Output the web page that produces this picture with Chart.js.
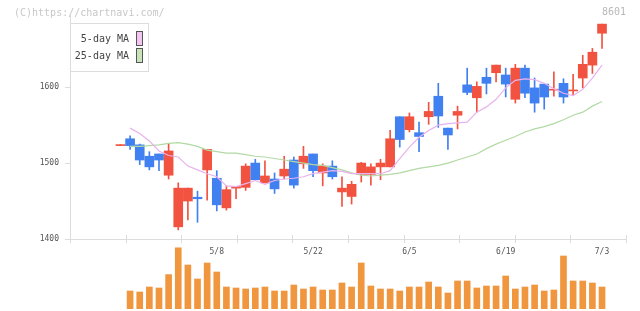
<!DOCTYPE html>
<html>
<head>
<meta charset="utf-8">
<script src="https://cdn.jsdelivr.net/npm/chart.js@4.4.0/dist/chart.umd.min.js"></script>
<style>
  html, body { margin: 0; padding: 0; background: #fff; }
  #wrap { position: relative; width: 640px; height: 311px; overflow: hidden; }
  #wrap canvas { position: absolute; left: 0; top: 0; }
  .note { position: absolute; font: 10px "DejaVu Sans Mono", monospace; line-height: 12px; white-space: nowrap; }
</style>
</head>
<body>
<div id="wrap">
  <canvas id="vol" width="640" height="311"></canvas>
  <canvas id="price" width="640" height="311"></canvas>
  <div class="note" style="left:14px;top:7px;color:#c8c8c8">(C)https://chartnavi.com/</div>
  <div class="note" style="left:602px;top:6px;color:#b8b8b8">8601</div>
</div>
<script>
// daily candles, index 0 = first day drawn (no volume shown)
const open  = [1523,1532,1524,1509,1512,1484,1416,1450,1455,1491,1480,1441,1467,1468,1500,1474,1479,1483,1504,1499,
               1512,1487,1496,1462,1456,1485,1485,1495,1495,1561,1544,1540,1561,1588,1546,1563,1603,1586,1613,1619,
               1616,1584,1625,1599,1604,1596,1605,1595,1612,1629,1671];
const high  = [1523,1536,1525,1515,1512,1526,1474,1467,1463,1518,1490,1470,1469,1499,1505,1503,1487,1509,1508,1522,
               1512,1499,1503,1482,1476,1501,1499,1505,1543,1561,1566,1554,1580,1605,1546,1575,1625,1607,1625,1629,
               1625,1630,1629,1612,1604,1620,1611,1617,1642,1651,1683];
const low   = [1523,1518,1498,1491,1490,1479,1412,1425,1422,1451,1437,1438,1453,1464,1478,1474,1460,1479,1467,1493,
               1482,1470,1479,1443,1446,1475,1471,1478,1495,1521,1541,1515,1551,1547,1518,1545,1590,1567,1591,1607,
               1587,1579,1586,1567,1571,1588,1579,1590,1599,1618,1651];
const close = [1523,1523,1504,1495,1504,1516,1467,1467,1453,1518,1445,1465,1469,1496,1478,1483,1466,1492,1471,1509,
               1490,1496,1482,1467,1472,1500,1495,1500,1532,1531,1561,1535,1568,1562,1537,1568,1593,1601,1605,1629,
               1604,1625,1592,1579,1587,1596,1587,1595,1630,1646,1683];
const volume = [null,4500,4250,5500,5250,8600,15300,11000,7500,11500,9250,5500,5250,5000,5250,5500,4500,4500,6000,5000,
               5500,4750,4750,6500,5500,11500,5750,5000,5000,4500,5500,5500,6750,5500,4000,7000,7000,5250,5750,5750,
               8250,5000,5500,6000,4500,4750,13250,7000,7000,6500,5500];
const ma5   = [null,1546,1539,1529,1516,1510,1508,1496,1491,1486,1482,1470,1469,1473,1477,1472,1477,1479,1480,1482,
               1486,1488,1490,1489,1486,1486,1486,1486,1490,1506,1521,1534,1543,1550,1552,1553,1554,1567,1574,1584,
               1599,1609,1611,1610,1605,1598,1592,1589,1597,1612,1629];
const ma25  = [null,1522,1522,1523,1524,1526,1527,1525,1522,1517,1515,1513,1513,1511,1509,1508,1506,1504,1502,1500,
               1498,1497,1494,1491,1487,1484,1483,1484,1485,1487,1490,1493,1495,1497,1500,1504,1508,1512,1519,1525,
               1530,1535,1541,1545,1548,1552,1557,1563,1567,1575,1581];
const dateIdx    = [10, 20, 30, 40, 50];
const dateLabels = ['5/8', '5/22', '6/5', '6/19', '7/3'];
const priceTicks = [1400, 1500, 1600];

const UP = '#f15340', DOWN = '#4080f0', VOL = '#f0963e', AXIS = '#dcdcdc';
const X_MIN = -5.24, X_MAX = 52.49;
const MONO = '"DejaVu Sans Mono", monospace';

const idx = open.map((_, i) => i);
const candleColor = ctx => close[ctx.dataIndex] >= open[ctx.dataIndex] ? UP : DOWN;

// tick marks across the bottom axis line, 10 equal steps
const crossTicks = {
  id: 'crossTicks',
  afterDraw(chart) {
    const sx = chart.scales.x, bottom = chart.chartArea.bottom, ctx = chart.ctx;
    ctx.save();
    ctx.strokeStyle = AXIS;
    ctx.lineWidth = 1;
    sx.ticks.forEach(t => {
      const px = Math.round(sx.getPixelForValue(t.value)) + 0.5;
      ctx.beginPath();
      ctx.moveTo(px, bottom - 4);
      ctx.lineTo(px, bottom + 4);
      ctx.stroke();
    });
    ctx.restore();
  }
};

// boxed legend, text left of the swatch
const maLegend = {
  id: 'maLegend',
  afterDraw(chart) {
    const ctx = chart.ctx;
    const items = chart.data.datasets.filter(d => d.type === 'line');
    const left = chart.chartArea.left;
    ctx.save();
    ctx.strokeStyle = AXIS;
    ctx.lineWidth = 1;
    ctx.strokeRect(left + 0.5, 23.5, 78, 48);
    ctx.font = '10px ' + MONO;
    ctx.textAlign = 'right';
    ctx.textBaseline = 'middle';
    items.forEach((d, k) => {
      const y = 31 + k * 17;
      ctx.fillStyle = '#444';
      ctx.fillText(d.label, left + 59, y + 8);
      ctx.fillStyle = d.swatch;
      ctx.fillRect(left + 66, y, 7, 15);
      ctx.strokeStyle = '#555';
      ctx.strokeRect(left + 66.5, y + 0.5, 6, 14);
    });
    ctx.restore();
  }
};

new Chart(document.getElementById('price'), {
  type: 'bar',
  data: {
    datasets: [
      {
        type: 'bar', label: 'wick', xAxisID: 'x', yAxisID: 'y', grouped: false, order: 3,
        data: idx.map(i => ({ x: i, y: [low[i], high[i]] })),
        backgroundColor: candleColor, barThickness: 1, minBarLength: 1
      },
      {
        type: 'bar', label: 'body', xAxisID: 'x', yAxisID: 'y', grouped: false, order: 2,
        data: idx.map(i => ({ x: i, y: [open[i], close[i]] })),
        backgroundColor: candleColor, barThickness: 9, minBarLength: 1
      },
      {
        type: 'line', label: '5-day MA', xAxisID: 'x', yAxisID: 'y', order: 1,
        data: idx.map(i => ({ x: i, y: ma5[i] })),
        borderColor: '#e8b2ec', swatch: '#f2c6f2', borderWidth: 1.2, pointRadius: 0, tension: 0
      },
      {
        type: 'line', label: '25-day MA', xAxisID: 'x', yAxisID: 'y', order: 1,
        data: idx.map(i => ({ x: i, y: ma25[i] })),
        borderColor: '#b2d9a4', swatch: '#c6e4b8', borderWidth: 1.2, pointRadius: 0, tension: 0
      }
    ]
  },
  options: {
    responsive: false,
    animation: false,
    devicePixelRatio: 1,
    layout: { padding: { left: 0, right: 14, top: 15, bottom: 0 } },
    plugins: { legend: { display: false }, tooltip: { enabled: false } },
    scales: {
      x: {
        type: 'linear', min: X_MIN, max: X_MAX, offset: false, weight: 0,
        afterBuildTicks: s => { s.ticks = Array.from({ length: 11 }, (_, k) => ({ value: X_MIN + k * (X_MAX - X_MIN) / 10 })); },
        afterFit: s => { s.height = 0; },
        ticks: { display: false },
        grid: { display: false, drawTicks: false },
        border: { display: true, color: AXIS }
      },
      xd: {
        type: 'linear', position: 'bottom', min: X_MIN, max: X_MAX, offset: false, weight: 1,
        afterBuildTicks: s => { s.ticks = dateIdx.map(v => ({ value: v })); },
        afterFit: s => { s.height = 72; },
        ticks: {
          autoSkip: false, maxRotation: 0, padding: 8, color: '#555',
          font: { family: MONO, size: 8 },
          callback: (v, k) => dateLabels[k]
        },
        grid: { display: false, drawTicks: false },
        border: { display: false }
      },
      y: {
        type: 'linear', min: 1400, max: 1695,
        afterBuildTicks: s => { s.ticks = priceTicks.map(v => ({ value: v })); },
        afterFit: s => { s.width = 70; },
        ticks: { color: '#555', padding: 6, font: { family: MONO, size: 8 }, callback: v => String(v) },
        grid: { drawOnChartArea: false, tickLength: 5, color: AXIS },
        border: { display: true, color: AXIS }
      }
    }
  },
  plugins: [crossTicks, maLegend]
});

new Chart(document.getElementById('vol'), {
  type: 'bar',
  data: {
    datasets: [{
      data: idx.map(i => ({ x: i, y: volume[i] })),
      backgroundColor: VOL, barThickness: 6
    }]
  },
  options: {
    responsive: false,
    animation: false,
    devicePixelRatio: 1,
    layout: { padding: { left: 70, right: 14, top: 246, bottom: 2 } },
    plugins: { legend: { display: false }, tooltip: { enabled: false } },
    scales: {
      x: { type: 'linear', min: X_MIN, max: X_MAX, offset: false, display: false },
      y: { min: 0, max: 15750, display: false }
    }
  }
});
</script>
</body>
</html>
